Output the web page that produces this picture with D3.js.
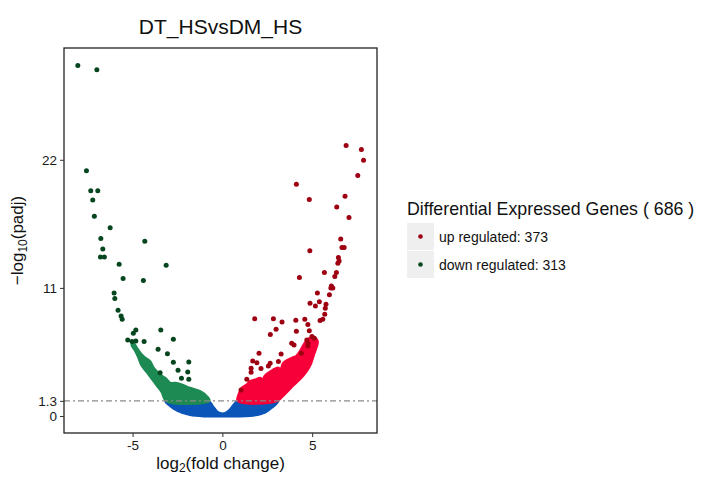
<!DOCTYPE html>
<html>
<head>
<meta charset="utf-8">
<script src="https://d3js.org/d3.v7.min.js"></script>
<style>
  body { margin: 0; background: #fff; }
  text { font-family: "Liberation Sans", Arial, sans-serif; }
</style>
</head>
<body>
<div id="my_dataviz"></div>
<script>
// scattered significant genes
const upX = [6.89, 7.74, 7.86, 7.54, 4.12, 4.84, 6.83, 6.37, 7.05, 6.59, 6.66, 6.78, 4.87, 6.46, 6.50, 6.43,
  6.35, 5.68, 6.26, 4.29, 6.07, 6.15, 6.04, 5.29, 5.96, 4.88, 5.18, 5.40, 5.77, 5.73, 5.70, 5.59, 5.44,
  1.80, 2.84, 3.32, 4.09, 4.59, 4.76, 2.99, 2.67, 4.12, 4.84, 4.99, 5.12, 4.70, 4.77, 3.86, 3.99, 4.76,
  2.04, 3.27, 4.40, 1.69, 1.92, 2.66, 2.56, 1.60, 1.60, 2.15, 3.12, 1.36, 1.04];
const upY = [23.23, 22.89, 21.96, 20.65, 19.91, 18.59, 18.88, 17.94, 17.04, 15.19, 14.46, 14.46, 14.18, 13.60, 13.32, 13.12,
  12.32, 12.32, 11.97, 11.89, 11.17, 11.0, 11.0, 10.57, 10.42, 9.69, 9.45, 9.80, 9.60, 9.26, 8.74, 8.31, 8.19,
  8.36, 8.36, 8.08, 8.22, 8.31, 7.85, 7.45, 6.99, 7.28, 7.33, 6.82, 6.68, 6.53, 6.25, 6.25, 6.10, 6.02,
  5.39, 5.33, 5.39, 4.73, 4.58, 4.53, 4.30, 4.10, 3.76, 4.07, 4.67, 3.15, 2.23];

const downX = [-8.05, -6.99, -7.57, -7.33, -6.94, -7.22, -7.13, -6.25, -6.77, -4.32, -6.66, -6.79, -6.57, -5.75,
  -3.13, -5.53, -4.40, -6.03, -5.99, -5.81, -5.64, -5.58, -4.82, -4.96, -3.43, -5.27, -5.03, -4.82, -4.36,
  -2.73, -3.58, -3.06, -2.73, -1.87, -2.47, -1.93, -3.47, -2.28, -1.87];
const downY = [30.1, 29.74, 21.06, 19.34, 19.34, 18.54, 17.16, 16.16, 15.24, 15.01, 14.35, 13.66, 13.66, 13.04,
  12.95, 11.80, 11.63, 10.57, 10.08, 9.08, 8.59, 8.31, 7.39, 7.11, 7.39, 6.53, 6.39, 6.45, 6.39,
  6.59, 5.73, 5.35, 4.61, 4.64, 3.93, 3.78, 3.72, 3.24, 3.15];

// outlines of the dense point clouds
const upBandX = [0.87, 0.95, 1.08, 1.36, 1.54, 1.82, 2.10, 2.25, 2.38, 2.84, 3.10, 3.25, 3.40, 3.86, 4.10, 4.33, 4.60, 4.88, 5.16,
  5.29, 5.07, 4.88, 4.51, 3.95, 3.40, 3.03];
const upBandY = [1.3, 1.95, 2.38, 2.66, 2.95, 3.09, 3.24, 3.10, 3.44, 3.95, 4.13, 3.95, 4.53, 4.96, 5.10, 5.53, 6.25, 6.68, 6.68,
  6.39, 5.24, 4.38, 3.52, 2.66, 1.80, 1.3];

const downBandX = [-5.04, -4.86, -4.68, -4.49, -4.21, -3.93, -3.65, -3.37, -3.10, -0.74, -0.87, -1.24, -1.80,
  -2.26, -2.63, -2.91, -3.19, -3.47, -3.84, -4.03, -4.30, -4.58, -4.77, -4.96];
const downBandY = [6.10, 5.67, 5.10, 4.38, 3.81, 3.24, 2.66, 2.09, 1.3, 1.3, 1.66, 2.09, 2.38,
  2.66, 2.81, 2.81, 3.24, 3.52, 4.10, 4.67, 4.96, 5.39, 5.82, 6.25];

const nsBandX = [-3.15, -0.85, -0.68, -0.52, -0.35, -0.13, 0.15, 0.37, 0.60, 0.76, 0.87, 3.08, 2.77, 2.38, 1.54, 0.71, -0.02,
  -0.96, -1.80, -2.47, -2.91];
const nsBandY = [1.3, 1.3, 1.12, 0.77, 0.43, 0.21, 0.21, 0.43, 0.86, 1.16, 1.3, 1.3, 0.77, 0.34, 0.04, 0.0, 0.0,
  0.0, 0.12, 0.47, 0.90];

const xTicks = [-5, 0, 5];
const yTicks = [0, 1.3, 11, 22];
const threshold = 1.3;
const legendLabels = ["up regulated: 373", "down regulated: 313"];
const legendTitle = "Differential Expressed Genes ( 686 )";
const chartTitle = "DT_HSvsDM_HS";

const W = 701, H = 478;
const panel = { left: 64, top: 48, right: 377, bottom: 433 };

const UP_DARK = "#9e0012", UP_BAND = "#f7003a";
const DOWN_DARK = "#06461f", DOWN_BAND = "#1c8a52";
const NS = "#0c55b8";

var svg = d3.select("#my_dataviz").append("svg")
  .attr("width", W)
  .attr("height", H);

svg.append("rect").attr("width", W).attr("height", H).attr("fill", "#fff");

var x = d3.scaleLinear().domain([-8.82, 8.61]).range([panel.left, panel.right]);
var y = d3.scaleLinear().domain([-1.46, 31.6]).range([panel.bottom, panel.top]);

var line = d3.line()
  .x(function (d) { return x(d[0]); })
  .y(function (d) { return y(d[1]); })
  .curve(d3.curveCatmullRomClosed.alpha(0.5));

function zip(a, b) { return a.map(function (v, i) { return [v, b[i]]; }); }

var plot = svg.append("g");

// dense clouds
[[nsBandX, nsBandY, NS], [downBandX, downBandY, DOWN_BAND], [upBandX, upBandY, UP_BAND]].forEach(function (b) {
  plot.append("path")
    .attr("d", line(zip(b[0], b[1])))
    .attr("fill", b[2])
    .attr("stroke", b[2])
    .attr("stroke-width", 3)
    .attr("stroke-linejoin", "round");
});

// threshold line
plot.append("line")
  .attr("x1", panel.left).attr("x2", panel.right)
  .attr("y1", y(threshold)).attr("y2", y(threshold))
  .attr("stroke", "#8a8a8a")
  .attr("stroke-width", 1.2)
  .attr("stroke-dasharray", "6,3,2,3");

// scattered points
plot.append("g").selectAll("circle.up")
  .data(zip(upX, upY))
  .enter().append("circle")
  .attr("cx", function (d) { return x(d[0]); })
  .attr("cy", function (d) { return y(d[1]); })
  .attr("r", 2.5)
  .attr("fill", UP_DARK);

plot.append("g").selectAll("circle.down")
  .data(zip(downX, downY))
  .enter().append("circle")
  .attr("cx", function (d) { return x(d[0]); })
  .attr("cy", function (d) { return y(d[1]); })
  .attr("r", 2.5)
  .attr("fill", DOWN_DARK);

// panel border
svg.append("rect")
  .attr("x", panel.left).attr("y", panel.top)
  .attr("width", panel.right - panel.left)
  .attr("height", panel.bottom - panel.top)
  .attr("fill", "none")
  .attr("stroke", "#222")
  .attr("stroke-width", 1.3);

// axes
var xAxis = svg.append("g")
  .attr("transform", "translate(0," + panel.bottom + ")")
  .call(d3.axisBottom(x).tickValues(xTicks).tickSize(4).tickPadding(3).tickFormat(d3.format("d")));
var yAxis = svg.append("g")
  .attr("transform", "translate(" + panel.left + ",0)")
  .call(d3.axisLeft(y).tickValues(yTicks).tickSize(4).tickPadding(3).tickFormat(function (d) { return String(d); }));

[xAxis, yAxis].forEach(function (a) {
  a.select(".domain").remove();
  a.selectAll(".tick line").attr("stroke", "#333");
  a.selectAll(".tick text")
    .attr("fill", "#1a1a1a")
    .style("font-size", "13.5px")
    .style("font-family", "'Liberation Sans', Arial, sans-serif");
});
xAxis.selectAll(".tick text").text(function (d) { return d < 0 ? "-" + Math.abs(d) : d; });

// title
svg.append("text")
  .attr("x", (panel.left + panel.right) / 2)
  .attr("y", 34)
  .attr("text-anchor", "middle")
  .style("font-size", "21px")
  .attr("fill", "#111")
  .text(chartTitle);

// axis titles
var xt = svg.append("text")
  .attr("x", (panel.left + panel.right) / 2)
  .attr("y", 469)
  .attr("text-anchor", "middle")
  .style("font-size", "17px")
  .attr("fill", "#111");
xt.append("tspan").text("log");
xt.append("tspan").attr("dy", 3).style("font-size", "12px").text("2");
xt.append("tspan").attr("dy", -3).text("(fold change)");

var yt = svg.append("text")
  .attr("transform", "translate(23," + (panel.top + panel.bottom) / 2 + ")rotate(-90)")
  .attr("text-anchor", "middle")
  .style("font-size", "17px")
  .attr("fill", "#111");
yt.append("tspan").text("\u2212log");
yt.append("tspan").attr("dy", 4).style("font-size", "12px").text("10");
yt.append("tspan").attr("dy", -4).text("(padj)");

// legend
var legend = svg.append("g").attr("transform", "translate(407,0)");
legend.append("text")
  .attr("x", 0).attr("y", 215)
  .style("font-size", "17.8px")
  .attr("fill", "#111")
  .text(legendTitle);

var items = legend.selectAll("g.item")
  .data(legendLabels)
  .enter().append("g")
  .attr("class", "item")
  .attr("transform", function (d, i) { return "translate(0," + (223 + i * 28) + ")"; });

items.append("rect")
  .attr("width", 27).attr("height", 27)
  .attr("fill", "#efefef");
items.append("circle")
  .attr("cx", 13.5).attr("cy", 13.5).attr("r", 2.3)
  .attr("fill", function (d, i) { return i === 0 ? UP_DARK : DOWN_DARK; });
items.append("text")
  .attr("x", 32).attr("y", 19)
  .style("font-size", "14px")
  .attr("fill", "#111")
  .text(function (d) { return d; });
</script>
</body>
</html>
